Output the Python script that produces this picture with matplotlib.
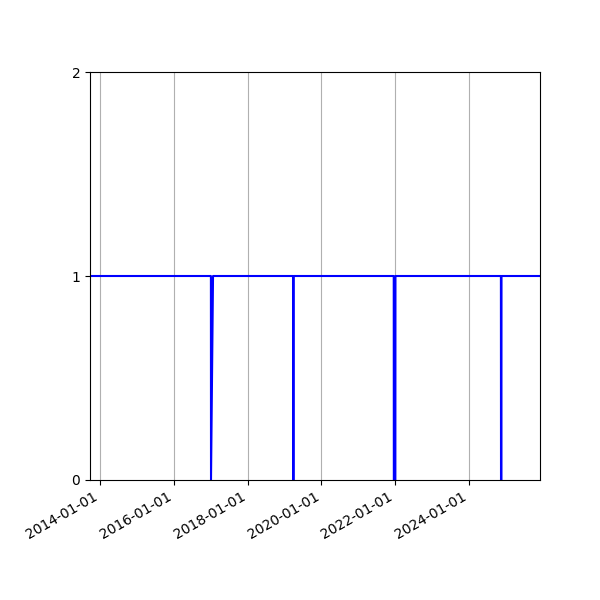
import matplotlib
matplotlib.use("Agg")
import matplotlib.pyplot as plt
import matplotlib.dates as mdates
import pandas as pd

# Breakpoints of the status series (1 = up, 0 = down)
dates = [
    "2013-09-24",
    "2017-01-03", "2017-01-04", "2017-01-24",
    "2019-03-27", "2019-03-28", "2019-04-02", "2019-04-03",
    "2021-12-18", "2021-12-19", "2022-01-03", "2022-01-04",
    "2024-11-13", "2024-11-14", "2024-11-18", "2024-11-19",
    "2025-12-05",
]
values = [
    1,
    1, 0, 1,
    1, 0, 0, 1,
    1, 0, 0, 1,
    1, 0, 0, 1,
    1,
]
y_ticks = [0, 1, 2]

x = pd.to_datetime(dates)

fig, ax = plt.subplots(figsize=(6, 6), dpi=100)
ax.plot(x, values, color="blue", linewidth=1.5)
ax.set_xlim(x[0], x[-1])
ax.set_ylim(0, 2)
ax.set_yticks(y_ticks)
ax.xaxis.set_major_locator(mdates.YearLocator(2))
ax.xaxis.set_major_formatter(mdates.DateFormatter("%Y-%m-%d"))
ax.grid(axis="x")
fig.autofmt_xdate()
fig.subplots_adjust(left=0.15, right=0.9, top=0.88, bottom=0.2)
fig.savefig("out.png", dpi=100)
